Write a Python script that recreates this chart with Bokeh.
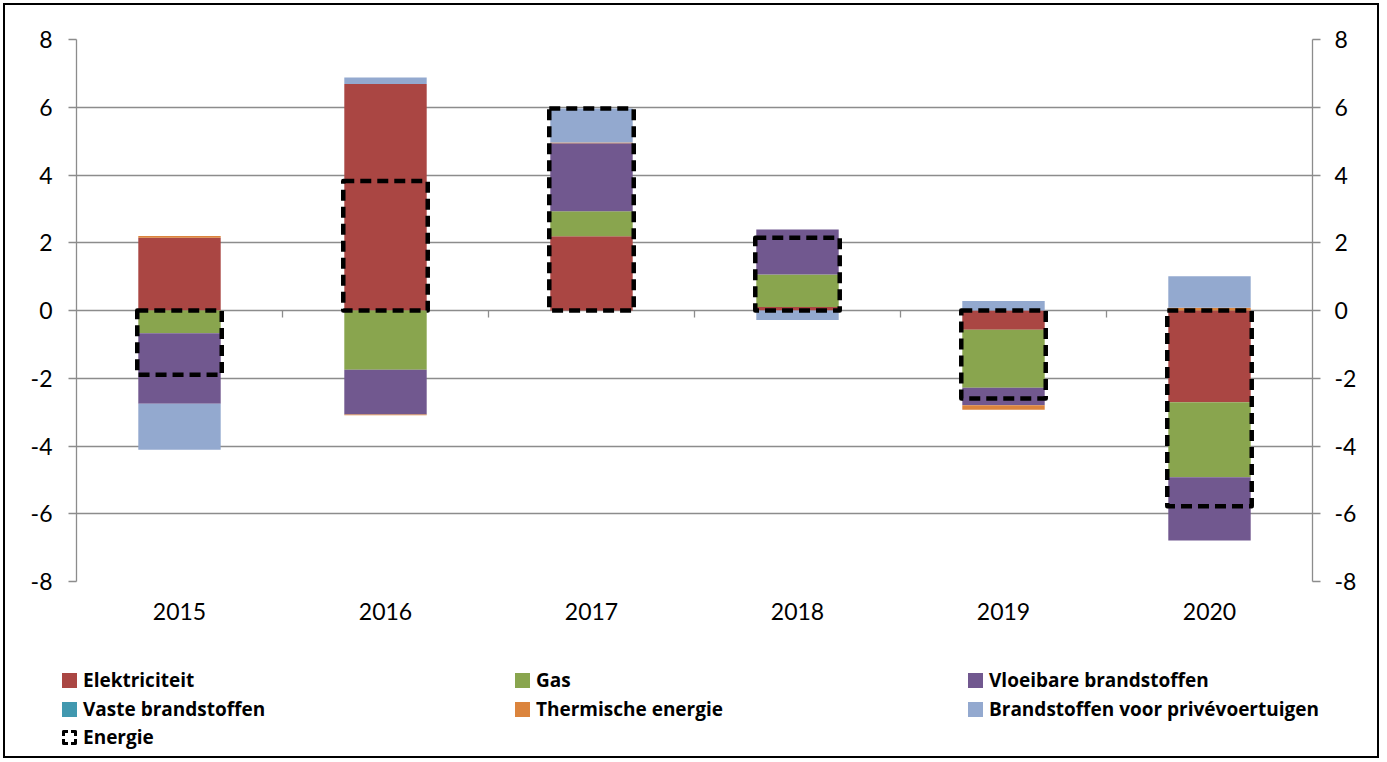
from bokeh.plotting import figure
from bokeh.layouts import column
from bokeh.models import (FactorRange, Range1d, LinearAxis, CategoricalAxis, FixedTicker,
                          Grid, Div)
from bokeh.embed import file_html
from bokeh.resources import INLINE

years = ["2015", "2016", "2017", "2018", "2019", "2020"]
elektriciteit = [2.15, 6.69, 2.19, 0.10, -0.57, -2.71]
gas = [-0.67, -1.75, 0.74, 0.96, -1.71, -2.21]
vloeibare = [-2.08, -1.32, 2.01, 1.33, -0.52, -1.87]
vaste = [0.0, 0.0, 0.0, 0.0, 0.0, 0.0]
thermische = [0.05, -0.02, 0.02, 0.0, -0.13, 0.08]
prive = [-1.36, 0.19, 1.00, -0.28, 0.28, 0.93]
energie = [-1.90, 3.82, 5.96, 2.15, -2.60, -5.78]
y_ticks = [-8, -6, -4, -2, 0, 2, 4, 6, 8]

series = [
    ("Elektriciteit", elektriciteit, "#AA4643"),
    ("Gas", gas, "#89A54E"),
    ("Vloeibare brandstoffen", vloeibare, "#71588F"),
    ("Vaste brandstoffen", vaste, "#4198AF"),
    ("Thermische energie", thermische, "#DB843D"),
    ("Brandstoffen voor privévoertuigen", prive, "#93A9CF"),
]
energie_label = "Energie"

FONT = "Lato"
GRID = "#8c8c8c"
W = 1372

p = figure(x_range=FactorRange(*years), y_range=Range1d(-8, 8),
           width=W, height=640, output_backend="svg", toolbar_location=None,
           x_axis_location=None, y_axis_location=None,
           min_border_left=71, min_border_right=65, min_border_top=34, min_border_bottom=64)
p.outline_line_color = None
p.background_fill_color = "white"
p.border_fill_color = "white"
p.center = []

grid = Grid(dimension=1, ticker=FixedTicker(ticks=y_ticks), grid_line_color=GRID, grid_line_width=1.3)
p.add_layout(grid, "center")

overrides = {t: str(t) for t in y_ticks}
for side, standoff in (("left", 16), ("right", 14)):
    ax = LinearAxis(ticker=FixedTicker(ticks=y_ticks), major_label_overrides=overrides)
    ax.axis_line_color = GRID
    ax.axis_line_width = 1.3
    ax.major_tick_line_color = GRID
    ax.major_tick_line_width = 1.3
    ax.major_tick_out = 8
    ax.major_tick_in = 0
    ax.minor_tick_line_color = None
    ax.major_label_text_font = FONT
    ax.major_label_text_font_size = "23px"
    ax.major_label_text_color = "black"
    ax.major_label_standoff = standoff
    p.add_layout(ax, side)

xax = CategoricalAxis()
xax.axis_line_color = None
xax.major_tick_line_color = None
xax.major_label_text_font = FONT
xax.major_label_text_font_size = "23px"
xax.major_label_text_color = "black"
xax.major_label_standoff = 15
p.add_layout(xax, "below")

# category-boundary tick marks on the zero line (7px ≈ 0.207 data units)
bounds = [(y, 0.5) for y in years[:-1]]
p.segment(x0=bounds, x1=bounds, y0=[0] * len(bounds), y1=[-0.207] * len(bounds),
          line_color=GRID, line_width=1.3)

pos = [0.0] * len(years)
neg = [0.0] * len(years)
for name, vals, color in series:
    bottoms, tops = [], []
    for i, v in enumerate(vals):
        if v >= 0:
            bottoms.append(pos[i]); tops.append(pos[i] + v); pos[i] += v
        else:
            tops.append(neg[i]); bottoms.append(neg[i] + v); neg[i] += v
    p.vbar(x=years, bottom=bottoms, top=tops, width=0.4, fill_color=color, line_color=None)

p.vbar(x=years, bottom=[min(0, e) for e in energie], top=[max(0, e) for e in energie],
       width=0.41, fill_color=None, line_color="black", line_width=4.5, line_dash="11 6",
       line_join="round")

# legend as an HTML panel below the chart (3 columns, row-major like the reference)
def item(label, swatch_style):
    return ('<div style="display:flex;align-items:center;height:28.8px;white-space:nowrap">'
            f'<span style="display:inline-block;box-sizing:border-box;width:15px;height:15px;'
            f'margin-right:6px;{swatch_style}"></span>{label}</div>')

cells = [item(name, f"background:{color}") for name, _, color in series]
cells.append(item(energie_label, "border:3.5px dashed black;border-radius:2px"))
html = ('<div style="display:grid;grid-template-columns:453px 453px 420px;'
        'font-family:\'Open Sans\';font-weight:bold;font-size:19px;color:black;'
        'padding-left:57px;padding-top:21px">' + "".join(cells) + '</div>')
leg = Div(text=html, width=W, height=111, margin=0)

layout = column(p, leg, spacing=0, styles={"border": "2px solid black", "margin": "3px",
                                          "background": "white"})

open("out.html", "w").write(file_html(layout, INLINE))
